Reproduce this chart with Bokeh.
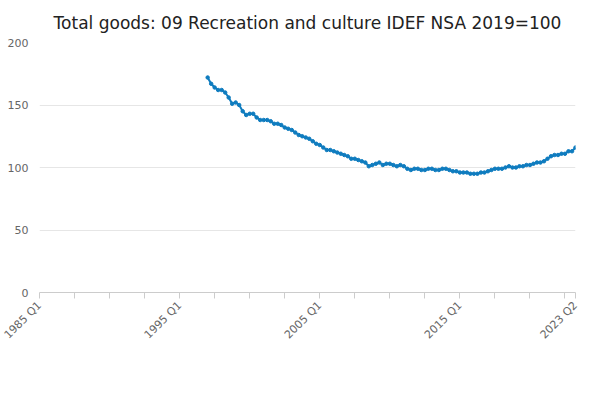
from bokeh.plotting import figure
from bokeh.models import FixedTicker, Legend, Label, ColumnDataSource
from bokeh.embed import file_html
from bokeh.resources import INLINE
import math

start_year = 1997
values = [172,167,164,162, 162,160,156,151, 152,150,145,142, 143,143,140,138,
          138,138,137,135, 135,134,132,131, 130,128,126,125, 124,123,121,119,
          118,116,114,114, 113,112,111,110, 109,107,107,106, 105,104,101,102,
          103,104,102,103, 103,102,101,102, 101,99,98,99, 99,98,98,99,
          99,98,98,99, 99,98,97,97, 96,96,96,95, 95,95,96,96,
          97,98,99,99, 99,100,101,100, 100,101,101,102, 102,103,104,104,
          105,107,109,110, 110,111,111,113, 113,116]
x = [start_year + i*0.25 for i in range(len(values))]
tick_pos = [1985 + 2.5*i for i in range(16)] + [2023.25]
tick_labels = {1985: "1985 Q1", 1995: "1995 Q1", 2005: "2005 Q1", 2015: "2015 Q1", 2023.25: "2023 Q2"}
series_name = "Total goods: 09 Recreation and culture IDEF NSA 2019=100"

p = figure(frame_width=536, frame_height=250, output_backend="svg", toolbar_location=None,
           x_range=(1985, 2023.25), y_range=(0, 200),
           min_border_left=39, min_border_right=9, min_border_top=0, min_border_bottom=18)
p.outline_line_color = None
src = ColumnDataSource(dict(x=x, y=values))
r1 = p.line("x", "y", source=src, line_color="#0f7cbf", line_width=2)
r2 = p.scatter("x", "y", source=src, color="#0f7cbf", size=3.5)

p.xaxis.ticker = FixedTicker(ticks=tick_pos)
p.xaxis.major_label_overrides = {t: tick_labels.get(t, "") for t in tick_pos}
p.xaxis.major_label_orientation = math.pi/4
p.xaxis.minor_tick_line_color = None
p.xaxis.major_tick_in = 0
p.xaxis.major_tick_out = 6
p.xaxis.axis_line_color = "#cccccc"
p.xaxis.major_tick_line_color = "#cccccc"
p.xgrid.grid_line_color = None
p.yaxis.ticker = FixedTicker(ticks=[0, 50, 100, 150, 200])
p.yaxis.axis_line_color = None
p.yaxis.major_tick_line_color = None
p.yaxis.minor_tick_line_color = None
p.ygrid.grid_line_color = "#e6e6e6"
for ax in (p.xaxis[0], p.yaxis[0]):
    ax.major_label_text_color = "#666666"
    ax.major_label_text_font_size = "11px"
    ax.major_label_text_font = "DejaVu Sans"

p.title.text = "Total goods: 09 Recreation and culture IDEF NSA 2019=100"
p.title.text_font = "DejaVu Sans"
p.title.text_font_size = "17px"
p.title.text_font_style = "normal"
p.title.text_color = "#222222"
p.title.align = "center"
p.title.standoff = 20

p.add_layout(Label(x=1985, y=200, x_offset=-37, y_offset=7,
                   text="Index, base year = 100", text_font_size="12px",
                   text_color="#666666", text_font="DejaVu Sans"))

legend = Legend(items=[(series_name, [r1, r2])],
                orientation="horizontal", label_text_font_size="12px",
                label_text_font_style="bold", label_text_color="#333333",
                label_text_font="DejaVu Sans", border_line_color=None,
                margin=4, padding=2, glyph_width=22)
p.add_layout(legend, "below")
p.add_layout(Label(x=2023.25, y=0, x_offset=7, y_offset=-97, text="Source:",
                   text_align="right", text_font_size="12px", text_color="#666666",
                   text_font="DejaVu Sans"))

open("out.html", "w").write(file_html(p, INLINE))
